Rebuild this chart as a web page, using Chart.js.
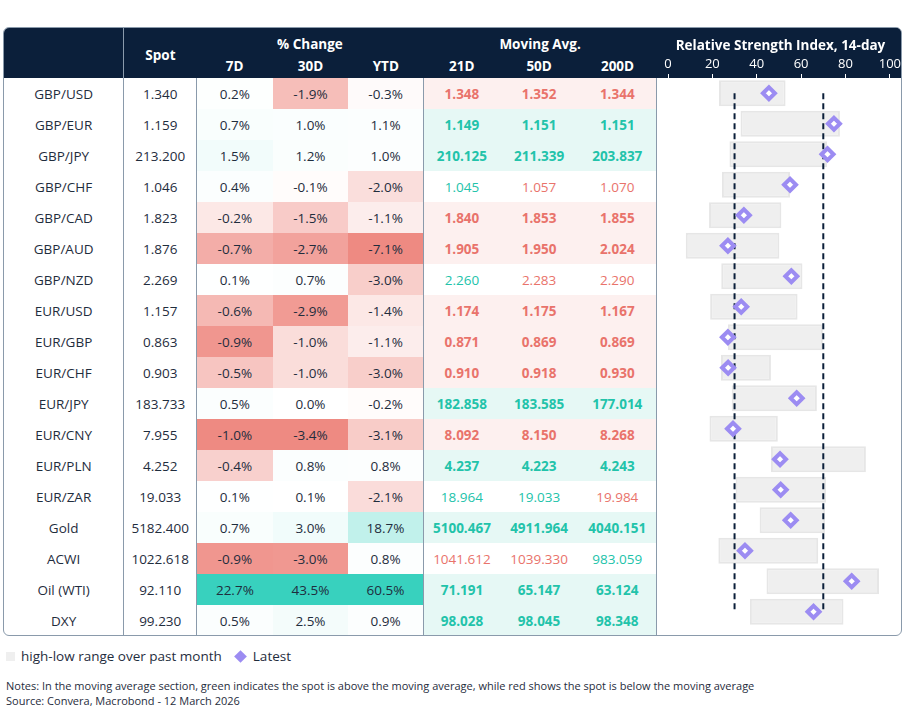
<!DOCTYPE html>
<html>
<head>
<meta charset="utf-8">
<script src="https://cdn.jsdelivr.net/npm/chart.js@4"></script>
<style>
  body { margin: 0; background: #fff; font-family: "Open Sans", "Noto Sans", sans-serif; color: #1f2d3d; }
  #box { position: absolute; left: 3px; top: 27px; width: 899px; height: 609px; border: 1px solid #8a9aab; border-radius: 6px; overflow: hidden; box-sizing: border-box; }
  table { border-collapse: collapse; table-layout: fixed; position: absolute; left: 0; top: 0; }
  th { background: #0b1f3a; color: #fff; font-weight: 700; font-size: 13.5px; padding: 0; }
  td { height: 31px; padding: 0; text-align: center; font-size: 13.5px; }
  .sep { border-right: 1px solid #8a9aab; }
  .bold { font-weight: 700; }
  #rsi { position: absolute; left: 654px; top: 0; width: 245px; height: 609px; }
  #title { position: absolute; left: 654px; top: 8px; width: 245px; text-align: center; color: #fff; font-weight: 700; font-size: 13.5px; }
  #legend { position: absolute; left: 6px; top: 647px; font-size: 13.5px; display: flex; align-items: center; }
  #notes { position: absolute; left: 6px; top: 678px; font-size: 11px; line-height: 15px; }
</style>
</head>
<body>
<div id="box">
  <table id="tbl"></table>
  <div id="rsi"><canvas id="rsiChart"></canvas></div>
  <div id="title">Relative Strength Index, 14-day</div>
</div>
<div id="legend">
  <span style="display:inline-block;width:9px;height:9px;background:#efefef;margin-right:6px"></span>high-low range over past month
  <span style="display:inline-block;width:9px;height:9px;background:#9c8cf2;transform:rotate(45deg);margin:0 8px 0 14px"></span>Latest
</div>
<div id="notes">Notes: In the moving average section, green indicates the spot is above the moving average, while red shows the spot is below the moving average<br>Source: Convera, Macrobond - 12 March 2026</div>
<script>
const pairs = ["GBP/USD","GBP/EUR","GBP/JPY","GBP/CHF","GBP/CAD","GBP/AUD","GBP/NZD","EUR/USD","EUR/GBP","EUR/CHF","EUR/JPY","EUR/CNY","EUR/PLN","EUR/ZAR","Gold","ACWI","Oil (WTI)","DXY"];
const spot = [1.340,1.159,213.200,1.046,1.823,1.876,2.269,1.157,0.863,0.903,183.733,7.955,4.252,19.033,5182.400,1022.618,92.110,99.230];
const chg7 = [0.2,0.7,1.5,0.4,-0.2,-0.7,0.1,-0.6,-0.9,-0.5,0.5,-1.0,-0.4,0.1,0.7,-0.9,22.7,0.5];
const chg30 = [-1.9,1.0,1.2,-0.1,-1.5,-2.7,0.7,-2.9,-1.0,-1.0,0.0,-3.4,0.8,0.1,3.0,-3.0,43.5,2.5];
const chgYtd = [-0.3,1.1,1.0,-2.0,-1.1,-7.1,-3.0,-1.4,-1.1,-3.0,-0.2,-3.1,0.8,-2.1,18.7,0.8,60.5,0.9];
const ma21 = [1.348,1.149,210.125,1.045,1.840,1.905,2.260,1.174,0.871,0.910,182.858,8.092,4.237,18.964,5100.467,1041.612,71.191,98.028];
const ma50 = [1.352,1.151,211.339,1.057,1.853,1.950,2.283,1.175,0.869,0.918,183.585,8.150,4.223,19.033,4911.964,1039.330,65.147,98.045];
const ma200 = [1.344,1.151,203.837,1.070,1.855,2.024,2.290,1.167,0.869,0.930,177.014,8.268,4.243,19.984,4040.151,983.059,63.124,98.348];
const rsiLow = [23,32.7,27.7,24.3,18.5,8,24,19,27,23.9,28.7,18.7,46.4,30.5,41.3,22.7,44.4,36.9];
const rsiHigh = [53,77.5,71.7,55,51.1,50.2,60.6,58.4,69.8,46.4,67.1,49.5,89.2,71.3,70.8,67.7,95.1,79.1];
const rsiLatest = [45.5,74.8,71.9,55,34.2,27,55.6,33,27,27.1,58,29.3,50.5,50.8,55.3,34.7,82.8,65.6];

const widths = [120,73,76,76,75,77,78,79,245];
const GREEN = [56,209,190], RED = [238,138,130];

function mix(c, t) {
  return "rgb(" + c.map(v => Math.round(255 + (v - 255) * t)).join(",") + ")";
}
function heat(v, col) {
  const mx = Math.max(...col), mn = Math.min(...col);
  if (v > 0) return mix(GREEN, v / mx);
  if (v < 0) return mix(RED, v / mn);
  return "#fff";
}

const tbl = document.getElementById("tbl");
let html = "<colgroup>" + widths.map(w => `<col style="width:${w}px">`).join("") + "</colgroup>";
html += `<tr style="height:25px"><th class="sep"></th><th rowspan="2" style="vertical-align:middle;padding-top:4px">Spot</th>
  <th colspan="3" style="vertical-align:bottom">% Change</th><th colspan="3" style="vertical-align:bottom">Moving Avg.</th><th></th></tr>
  <tr style="height:25px"><th class="sep"></th><th>7D</th><th>30D</th><th>YTD</th><th>21D</th><th>50D</th><th>200D</th><th></th></tr>`;
pairs.forEach((p, i) => {
  const mas = [ma21[i], ma50[i], ma200[i]];
  const up = mas.map(m => spot[i] >= m);
  const all = up.every(u => u) || up.every(u => !u);
  let row = `<tr><td class="sep">${p}</td><td class="sep">${spot[i].toFixed(3)}</td>`;
  [[chg7, i], [chg30, i], [chgYtd, i]].forEach(([col], k) => {
    row += `<td style="background:${heat(col[i], col)}"${k === 2 ? ' class="sep"' : ""}>${col[i].toFixed(1)}%</td>`;
  });
  mas.forEach((m, k) => {
    const color = up[k] ? "#22c3aa" : "#e9736b";
    const bg = all ? (up[k] ? "#e6f8f5" : "#fdf0ef") : "#fff";
    row += `<td class="${all ? "bold" : ""}${k === 2 ? " sep" : ""}" style="color:${color};background:${bg}">${m.toFixed(3)}</td>`;
  });
  row += "<td></td></tr>";
  html += row;
});
tbl.innerHTML = html;

new Chart(document.getElementById("rsiChart"), {
  data: {
    labels: pairs,
    datasets: [
      { type: "line", data: [{ x: 30, y: pairs[0] }, { x: 30, y: pairs[17] }], borderColor: "#0b1f3a", borderWidth: 2, borderDash: [6, 4], pointRadius: 0, order: 1 },
      { type: "line", data: [{ x: 70, y: pairs[0] }, { x: 70, y: pairs[17] }], borderColor: "#0b1f3a", borderWidth: 2, borderDash: [6, 4], pointRadius: 0, order: 1 },
      { type: "line", data: pairs.map((p, i) => ({ x: rsiLatest[i], y: p })), showLine: false, pointStyle: "rectRot", pointRadius: 6, pointBorderWidth: 4, pointBackgroundColor: "#fff", pointBorderColor: "#9c8cf2", order: 0 },
      { type: "bar", data: pairs.map((p, i) => [rsiLow[i], rsiHigh[i]]), backgroundColor: "#efefef", borderColor: "#e6e6e6", borderWidth: 2, borderSkipped: false, barPercentage: 0.86, categoryPercentage: 1, order: 2 }
    ]
  },
  options: {
    indexAxis: "y",
    responsive: true,
    maintainAspectRatio: false,
    animation: false,
    layout: { padding: { left: 9, right: 10, top: 0, bottom: 0 } },
    plugins: { legend: { display: false }, tooltip: { enabled: false } },
    scales: {
      x: {
        position: "top", min: 0, max: 100,
        ticks: { stepSize: 10, color: "#fff", padding: 2, maxRotation: 0, font: { family: "Open Sans", size: 13 } },
        grid: { drawOnChartArea: false, drawTicks: true, tickLength: 4, color: "#fff" },
        border: { display: false },
        afterFit: s => { s.height = 50; }
      },
      y: { type: "category", display: false, offset: true }
    }
  },
  plugins: [{
    id: "hdr",
    beforeDraw: c => {
      const g = c.ctx;
      g.save();
      g.fillStyle = "#0b1f3a";
      g.fillRect(0, 0, c.width, c.chartArea.top);
      g.fillStyle = "#8a9aab";
      g.restore();
    }
  }]
});
</script>
</body>
</html>
